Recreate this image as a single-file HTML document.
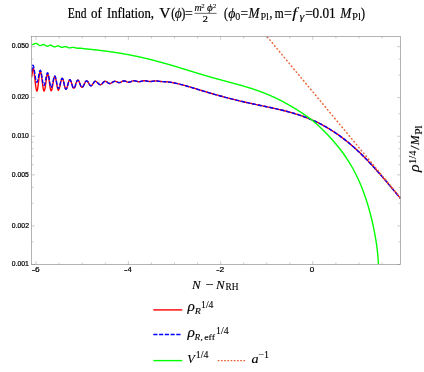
<!DOCTYPE html>
<html><head><meta charset="utf-8"><title>End of Inflation</title>
<style>
html,body{margin:0;padding:0;background:#fff;}
body{width:424px;height:372px;overflow:hidden;font-family:"Liberation Serif",serif;}
svg{display:block;will-change:transform;}
</style></head><body>
<svg width="424" height="372" viewBox="0 0 424 372">
<rect width="424" height="372" fill="#fff"/>
<clipPath id="c"><rect x="31.5" y="36.5" width="369.0" height="228.0"/></clipPath>
<g clip-path="url(#c)" fill="none" stroke-linejoin="round">
<path d="M31.50,77.20 L31.90,75.90 L32.30,72.75 L32.70,69.60 L33.10,68.30 L33.52,68.99 L33.94,70.97 L34.37,74.00 L34.79,77.72 L35.21,81.68 L35.63,85.40 L36.06,88.43 L36.48,90.41 L36.90,91.10 L37.32,90.35 L37.75,88.23 L38.17,85.05 L38.60,81.30 L39.02,77.55 L39.45,74.37 L39.88,72.25 L40.30,71.50 L40.72,72.09 L41.14,73.79 L41.57,76.40 L41.99,79.60 L42.41,83.00 L42.83,86.20 L43.26,88.81 L43.68,90.51 L44.10,91.10 L44.54,90.45 L44.98,88.60 L45.41,85.82 L45.85,82.55 L46.29,79.28 L46.73,76.50 L47.16,74.65 L47.60,74.00 L48.00,74.51 L48.40,75.97 L48.80,78.20 L49.20,80.94 L49.60,83.86 L50.00,86.60 L50.40,88.83 L50.80,90.29 L51.20,90.80 L51.65,90.26 L52.10,88.71 L52.55,86.39 L53.00,83.65 L53.45,80.91 L53.90,78.59 L54.35,77.04 L54.80,76.50 L55.20,76.91 L55.60,78.10 L56.00,79.92 L56.40,82.16 L56.80,84.54 L57.20,86.78 L57.60,88.60 L58.00,89.79 L58.40,90.20 L58.82,89.84 L59.24,88.82 L59.67,87.25 L60.09,85.32 L60.51,83.28 L60.93,81.35 L61.36,79.78 L61.78,78.76 L62.20,78.40 L62.62,78.73 L63.04,79.66 L63.47,81.10 L63.89,82.86 L64.31,84.74 L64.73,86.50 L65.16,87.94 L65.58,88.87 L66.00,89.20 L66.42,88.91 L66.84,88.09 L67.27,86.83 L67.69,85.27 L68.11,83.63 L68.53,82.08 L68.96,80.81 L69.38,79.99 L69.80,79.70 L70.20,79.91 L70.60,80.51 L71.00,81.45 L71.40,82.64 L71.80,83.95 L72.20,85.26 L72.60,86.45 L73.00,87.39 L73.40,87.99 L73.80,88.20 L74.20,88.00 L74.60,87.43 L75.00,86.53 L75.40,85.40 L75.80,84.15 L76.20,82.90 L76.60,81.77 L77.00,80.87 L77.40,80.30 L77.80,80.10 L78.22,80.28 L78.64,80.79 L79.06,81.58 L79.48,82.59 L79.90,83.70 L80.32,84.81 L80.74,85.82 L81.16,86.61 L81.58,87.12 L82.00,87.30 L82.42,87.17 L82.84,86.79 L83.25,86.20 L83.67,85.43 L84.09,84.56 L84.51,83.64 L84.93,82.77 L85.35,82.00 L85.76,81.41 L86.18,81.03 L86.60,80.90 L87.00,81.00 L87.40,81.29 L87.80,81.75 L88.20,82.33 L88.60,83.00 L89.00,83.70 L89.40,84.37 L89.80,84.95 L90.20,85.41 L90.60,85.70 L91.00,85.80 L91.43,85.69 L91.86,85.37 L92.29,84.87 L92.72,84.25 L93.15,83.55 L93.58,82.85 L94.01,82.23 L94.44,81.73 L94.87,81.41 L95.30,81.30 L95.72,81.36 L96.13,81.53 L96.55,81.80 L96.97,82.15 L97.38,82.56 L97.80,83.00 L98.22,83.44 L98.63,83.85 L99.05,84.20 L99.47,84.47 L99.88,84.64 L100.30,84.70 L100.74,84.63 L101.17,84.43 L101.61,84.11 L102.05,83.71 L102.48,83.24 L102.92,82.76 L103.35,82.29 L103.79,81.89 L104.23,81.57 L104.66,81.37 L105.10,81.30 L105.53,81.34 L105.95,81.47 L106.38,81.68 L106.81,81.94 L107.24,82.24 L107.66,82.56 L108.09,82.86 L108.52,83.12 L108.95,83.33 L109.37,83.46 L109.80,83.50 L110.22,83.46 L110.65,83.35 L111.08,83.18 L111.50,82.95 L111.92,82.68 L112.35,82.40 L112.78,82.12 L113.20,81.85 L113.62,81.62 L114.05,81.45 L114.48,81.34 L114.90,81.30 L115.34,81.33 L115.78,81.42 L116.22,81.57 L116.66,81.75 L117.10,81.95 L117.54,82.15 L117.98,82.33 L118.42,82.48 L118.86,82.57 L119.30,82.60 L119.72,82.57 L120.14,82.47 L120.55,82.31 L120.97,82.10 L121.39,81.87 L121.81,81.63 L122.23,81.40 L122.65,81.19 L123.06,81.03 L123.48,80.93 L123.90,80.90 L124.33,80.93 L124.75,81.00 L125.18,81.12 L125.61,81.28 L126.04,81.46 L126.46,81.64 L126.89,81.82 L127.32,81.98 L127.75,82.10 L128.17,82.17 L128.60,82.20 L129.02,82.18 L129.43,82.12 L129.85,82.02 L130.26,81.89 L130.68,81.73 L131.09,81.56 L131.51,81.39 L131.92,81.22 L132.34,81.06 L132.75,80.93 L133.17,80.83 L133.58,80.77 L134.00,80.75 L134.41,80.77 L134.82,80.81 L135.22,80.89 L135.63,80.99 L136.04,81.10 L136.45,81.22 L136.86,81.35 L137.27,81.46 L137.68,81.56 L138.08,81.64 L138.49,81.68 L138.90,81.70 L139.32,81.69 L139.75,81.65 L140.17,81.58 L140.59,81.49 L141.02,81.39 L141.44,81.28 L141.86,81.17 L142.28,81.06 L142.71,80.96 L143.13,80.87 L143.55,80.80 L143.98,80.76 L144.40,80.75 L144.83,80.76 L145.26,80.79 L145.69,80.84 L146.12,80.91 L146.55,80.99 L146.98,81.08 L147.42,81.17 L147.85,81.26 L148.28,81.34 L148.71,81.41 L149.14,81.46 L149.57,81.49 L150.00,81.50 L150.41,81.49 L150.81,81.47 L151.22,81.43 L151.63,81.39 L152.04,81.33 L152.44,81.27 L152.85,81.20 L153.26,81.13 L153.66,81.07 L154.07,81.01 L154.48,80.97 L154.89,80.93 L155.29,80.91 L155.70,80.90 L156.11,80.91 L156.51,80.93 L156.92,80.97 L157.33,81.01 L157.74,81.07 L158.14,81.13 L158.55,81.20 L158.96,81.27 L159.36,81.33 L159.77,81.39 L160.18,81.43 L160.59,81.47 L160.99,81.49 L161.40,81.50 L162.40,81.62 L163.40,81.65 L164.40,81.68 L165.40,81.72 L166.40,81.78 L167.40,81.85 L168.40,81.95 L169.40,82.08 L170.40,82.24 L171.40,82.42 L172.40,82.61 L173.40,82.80 L174.40,82.99 L175.40,83.19 L176.40,83.40 L177.40,83.62 L178.40,83.86 L179.40,84.10 L180.40,84.35 L181.40,84.60 L182.40,84.87 L183.40,85.14 L184.40,85.41 L185.40,85.69 L186.40,85.97 L187.40,86.26 L188.40,86.55 L189.40,86.85 L190.40,87.14 L191.40,87.44 L192.40,87.74 L193.40,88.04 L194.40,88.35 L195.40,88.65 L196.40,88.95 L197.40,89.26 L198.40,89.56 L199.40,89.86 L200.40,90.17 L201.40,90.47 L202.40,90.77 L203.40,91.07 L204.40,91.37 L205.40,91.67 L206.40,91.97 L207.40,92.27 L208.40,92.57 L209.40,92.86 L210.40,93.15 L211.40,93.45 L212.40,93.74 L213.40,94.03 L214.40,94.31 L215.40,94.60 L216.40,94.88 L217.40,95.17 L218.40,95.45 L219.40,95.72 L220.40,96.00 L221.40,96.28 L222.40,96.55 L223.40,96.82 L224.40,97.09 L225.40,97.35 L226.40,97.62 L227.40,97.88 L228.40,98.14 L229.40,98.39 L230.40,98.65 L231.40,98.90 L232.40,99.15 L233.40,99.40 L234.40,99.65 L235.40,99.89 L236.40,100.13 L237.40,100.37 L238.40,100.61 L239.40,100.85 L240.40,101.08 L241.40,101.31 L242.40,101.55 L243.40,101.77 L244.40,102.00 L245.40,102.22 L246.40,102.45 L247.40,102.67 L248.40,102.89 L249.40,103.11 L250.40,103.33 L251.40,103.54 L252.40,103.76 L253.40,103.97 L254.40,104.18 L255.40,104.40 L256.40,104.61 L257.40,104.82 L258.40,105.03 L259.40,105.24 L260.40,105.45 L261.40,105.65 L262.40,105.86 L263.40,106.07 L264.40,106.28 L265.40,106.49 L266.40,106.70 L267.40,106.91 L268.40,107.12 L269.40,107.34 L270.40,107.55 L271.40,107.77 L272.40,107.98 L273.40,108.20 L274.40,108.42 L275.40,108.64 L276.40,108.87 L277.40,109.09 L278.40,109.32 L279.40,109.56 L280.40,109.79 L281.40,110.03 L282.40,110.27 L283.40,110.52 L284.40,110.77 L285.40,111.02 L286.40,111.28 L287.40,111.54 L288.40,111.81 L289.40,112.08 L290.40,112.35 L291.40,112.64 L292.40,112.92 L293.40,113.22 L294.40,113.52 L295.40,113.82 L296.40,114.14 L297.40,114.45 L298.40,114.78 L299.40,115.11 L300.40,115.45 L301.40,115.79 L302.40,116.15 L303.40,116.51 L304.40,116.88 L305.40,117.25 L306.40,117.64 L307.40,118.03 L308.40,118.43 L309.40,118.84 L310.40,119.26 L311.40,119.68 L312.40,120.12 L313.40,120.56 L314.40,121.01 L315.40,121.48 L316.40,121.95 L317.40,122.43 L318.40,122.92 L319.40,123.42 L320.40,123.93 L321.40,124.45 L322.40,124.98 L323.40,125.52 L324.40,126.07 L325.40,126.63 L326.40,127.20 L327.40,127.79 L328.40,128.38 L329.40,128.98 L330.40,129.60 L331.40,130.22 L332.40,130.86 L333.40,131.50 L334.40,132.16 L335.40,132.83 L336.40,133.51 L337.40,134.20 L338.40,134.90 L339.40,135.62 L340.40,136.34 L341.40,137.08 L342.40,137.83 L343.40,138.59 L344.40,139.36 L345.40,140.15 L346.40,140.94 L347.40,141.75 L348.40,142.57 L349.40,143.40 L350.40,144.24 L351.40,145.10 L352.40,145.97 L353.40,146.84 L354.40,147.73 L355.40,148.63 L356.40,149.55 L357.40,150.47 L358.40,151.41 L359.40,152.36 L360.40,153.31 L361.40,154.28 L362.40,155.27 L363.40,156.26 L364.40,157.26 L365.40,158.27 L366.40,159.30 L367.40,160.33 L368.40,161.37 L369.40,162.43 L370.40,163.49 L371.40,164.56 L372.40,165.64 L373.40,166.73 L374.40,167.83 L375.40,168.94 L376.40,170.05 L377.40,171.17 L378.40,172.30 L379.40,173.44 L380.40,174.59 L381.40,175.74 L382.40,176.89 L383.40,178.06 L384.40,179.22 L385.40,180.40 L386.40,181.57 L387.40,182.75 L388.40,183.94 L389.40,185.13 L390.40,186.32 L391.40,187.52 L392.40,188.71 L393.40,189.91 L394.40,191.11 L395.40,192.31 L396.40,193.51 L397.40,194.71 L398.40,195.91 L399.40,197.10 L400.40,198.30 L400.50,198.42" stroke="#ff0000" stroke-width="1.4"/>
<path d="M31.50,71.50 L31.93,69.90 L32.37,66.70 L32.80,65.10 L33.21,65.52 L33.62,66.73 L34.03,68.62 L34.44,71.01 L34.85,73.65 L35.26,76.29 L35.67,78.68 L36.08,80.57 L36.49,81.78 L36.90,82.20 L37.32,81.74 L37.75,80.44 L38.17,78.50 L38.60,76.20 L39.02,73.90 L39.45,71.96 L39.88,70.66 L40.30,70.20 L40.70,70.66 L41.10,71.98 L41.50,74.00 L41.90,76.48 L42.30,79.12 L42.70,81.60 L43.10,83.62 L43.50,84.94 L43.90,85.40 L44.31,85.02 L44.72,83.91 L45.13,82.23 L45.54,80.15 L45.96,77.95 L46.37,75.88 L46.78,74.19 L47.19,73.08 L47.60,72.70 L48.00,73.14 L48.40,74.41 L48.80,76.35 L49.20,78.73 L49.60,81.27 L50.00,83.65 L50.40,85.59 L50.80,86.86 L51.20,87.30 L51.65,86.87 L52.10,85.63 L52.55,83.78 L53.00,81.60 L53.45,79.42 L53.90,77.57 L54.35,76.33 L54.80,75.90 L55.20,76.28 L55.60,77.37 L56.00,79.05 L56.40,81.11 L56.80,83.29 L57.20,85.35 L57.60,87.03 L58.00,88.12 L58.40,88.50 L58.82,88.19 L59.24,87.30 L59.67,85.92 L60.09,84.24 L60.51,82.46 L60.93,80.78 L61.36,79.40 L61.78,78.51 L62.20,78.20 L62.62,78.53 L63.04,79.49 L63.47,80.95 L63.89,82.74 L64.31,84.66 L64.73,86.45 L65.16,87.91 L65.58,88.87 L66.00,89.20 L66.42,88.91 L66.84,88.09 L67.27,86.83 L67.69,85.27 L68.11,83.63 L68.53,82.08 L68.96,80.81 L69.38,79.99 L69.80,79.70 L70.20,79.91 L70.60,80.51 L71.00,81.45 L71.40,82.64 L71.80,83.95 L72.20,85.26 L72.60,86.45 L73.00,87.39 L73.40,87.99 L73.80,88.20 L74.20,88.00 L74.60,87.43 L75.00,86.53 L75.40,85.40 L75.80,84.15 L76.20,82.90 L76.60,81.77 L77.00,80.87 L77.40,80.30 L77.80,80.10 L78.22,80.28 L78.64,80.79 L79.06,81.58 L79.48,82.59 L79.90,83.70 L80.32,84.81 L80.74,85.82 L81.16,86.61 L81.58,87.12 L82.00,87.30 L82.42,87.17 L82.84,86.79 L83.25,86.20 L83.67,85.43 L84.09,84.56 L84.51,83.64 L84.93,82.77 L85.35,82.00 L85.76,81.41 L86.18,81.03 L86.60,80.90 L87.00,81.00 L87.40,81.29 L87.80,81.75 L88.20,82.33 L88.60,83.00 L89.00,83.70 L89.40,84.37 L89.80,84.95 L90.20,85.41 L90.60,85.70 L91.00,85.80 L91.43,85.69 L91.86,85.37 L92.29,84.87 L92.72,84.25 L93.15,83.55 L93.58,82.85 L94.01,82.23 L94.44,81.73 L94.87,81.41 L95.30,81.30 L95.72,81.36 L96.13,81.53 L96.55,81.80 L96.97,82.15 L97.38,82.56 L97.80,83.00 L98.22,83.44 L98.63,83.85 L99.05,84.20 L99.47,84.47 L99.88,84.64 L100.30,84.70 L100.74,84.63 L101.17,84.43 L101.61,84.11 L102.05,83.71 L102.48,83.24 L102.92,82.76 L103.35,82.29 L103.79,81.89 L104.23,81.57 L104.66,81.37 L105.10,81.30 L105.53,81.34 L105.95,81.47 L106.38,81.68 L106.81,81.94 L107.24,82.24 L107.66,82.56 L108.09,82.86 L108.52,83.12 L108.95,83.33 L109.37,83.46 L109.80,83.50 L110.22,83.46 L110.65,83.35 L111.08,83.18 L111.50,82.95 L111.92,82.68 L112.35,82.40 L112.78,82.12 L113.20,81.85 L113.62,81.62 L114.05,81.45 L114.48,81.34 L114.90,81.30 L115.34,81.33 L115.78,81.42 L116.22,81.57 L116.66,81.75 L117.10,81.95 L117.54,82.15 L117.98,82.33 L118.42,82.48 L118.86,82.57 L119.30,82.60 L119.72,82.57 L120.14,82.47 L120.55,82.31 L120.97,82.10 L121.39,81.87 L121.81,81.63 L122.23,81.40 L122.65,81.19 L123.06,81.03 L123.48,80.93 L123.90,80.90 L124.33,80.93 L124.75,81.00 L125.18,81.12 L125.61,81.28 L126.04,81.46 L126.46,81.64 L126.89,81.82 L127.32,81.98 L127.75,82.10 L128.17,82.17 L128.60,82.20 L129.02,82.18 L129.43,82.12 L129.85,82.02 L130.26,81.89 L130.68,81.73 L131.09,81.56 L131.51,81.39 L131.92,81.22 L132.34,81.06 L132.75,80.93 L133.17,80.83 L133.58,80.77 L134.00,80.75 L134.41,80.77 L134.82,80.81 L135.22,80.89 L135.63,80.99 L136.04,81.10 L136.45,81.22 L136.86,81.35 L137.27,81.46 L137.68,81.56 L138.08,81.64 L138.49,81.68 L138.90,81.70 L139.32,81.69 L139.75,81.65 L140.17,81.58 L140.59,81.49 L141.02,81.39 L141.44,81.28 L141.86,81.17 L142.28,81.06 L142.71,80.96 L143.13,80.87 L143.55,80.80 L143.98,80.76 L144.40,80.75 L144.83,80.76 L145.26,80.79 L145.69,80.84 L146.12,80.91 L146.55,80.99 L146.98,81.08 L147.42,81.17 L147.85,81.26 L148.28,81.34 L148.71,81.41 L149.14,81.46 L149.57,81.49 L150.00,81.50 L150.41,81.49 L150.81,81.47 L151.22,81.43 L151.63,81.39 L152.04,81.33 L152.44,81.27 L152.85,81.20 L153.26,81.13 L153.66,81.07 L154.07,81.01 L154.48,80.97 L154.89,80.93 L155.29,80.91 L155.70,80.90 L156.11,80.91 L156.51,80.93 L156.92,80.97 L157.33,81.01 L157.74,81.07 L158.14,81.13 L158.55,81.20 L158.96,81.27 L159.36,81.33 L159.77,81.39 L160.18,81.43 L160.59,81.47 L160.99,81.49 L161.40,81.50 L162.40,81.62 L163.40,81.65 L164.40,81.68 L165.40,81.72 L166.40,81.78 L167.40,81.85 L168.40,81.95 L169.40,82.08 L170.40,82.24 L171.40,82.42 L172.40,82.61 L173.40,82.80 L174.40,82.99 L175.40,83.19 L176.40,83.40 L177.40,83.62 L178.40,83.86 L179.40,84.10 L180.40,84.35 L181.40,84.60 L182.40,84.87 L183.40,85.14 L184.40,85.41 L185.40,85.69 L186.40,85.97 L187.40,86.26 L188.40,86.55 L189.40,86.85 L190.40,87.14 L191.40,87.44 L192.40,87.74 L193.40,88.04 L194.40,88.35 L195.40,88.65 L196.40,88.95 L197.40,89.26 L198.40,89.56 L199.40,89.86 L200.40,90.17 L201.40,90.47 L202.40,90.77 L203.40,91.07 L204.40,91.37 L205.40,91.67 L206.40,91.97 L207.40,92.27 L208.40,92.57 L209.40,92.86 L210.40,93.15 L211.40,93.45 L212.40,93.74 L213.40,94.03 L214.40,94.31 L215.40,94.60 L216.40,94.88 L217.40,95.17 L218.40,95.45 L219.40,95.72 L220.40,96.00 L221.40,96.28 L222.40,96.55 L223.40,96.82 L224.40,97.09 L225.40,97.35 L226.40,97.62 L227.40,97.88 L228.40,98.14 L229.40,98.39 L230.40,98.65 L231.40,98.90 L232.40,99.15 L233.40,99.40 L234.40,99.65 L235.40,99.89 L236.40,100.13 L237.40,100.37 L238.40,100.61 L239.40,100.85 L240.40,101.08 L241.40,101.31 L242.40,101.55 L243.40,101.77 L244.40,102.00 L245.40,102.22 L246.40,102.45 L247.40,102.67 L248.40,102.89 L249.40,103.11 L250.40,103.33 L251.40,103.54 L252.40,103.76 L253.40,103.97 L254.40,104.18 L255.40,104.40 L256.40,104.61 L257.40,104.82 L258.40,105.03 L259.40,105.24 L260.40,105.45 L261.40,105.65 L262.40,105.86 L263.40,106.07 L264.40,106.28 L265.40,106.49 L266.40,106.70 L267.40,106.91 L268.40,107.12 L269.40,107.34 L270.40,107.55 L271.40,107.77 L272.40,107.98 L273.40,108.20 L274.40,108.42 L275.40,108.64 L276.40,108.87 L277.40,109.09 L278.40,109.32 L279.40,109.56 L280.40,109.79 L281.40,110.03 L282.40,110.27 L283.40,110.52 L284.40,110.77 L285.40,111.02 L286.40,111.28 L287.40,111.54 L288.40,111.81 L289.40,112.08 L290.40,112.35 L291.40,112.64 L292.40,112.92 L293.40,113.22 L294.40,113.52 L295.40,113.82 L296.40,114.14 L297.40,114.45 L298.40,114.78 L299.40,115.11 L300.40,115.45 L301.40,115.79 L302.40,116.15 L303.40,116.51 L304.40,116.88 L305.40,117.25 L306.40,117.64 L307.40,118.03 L308.40,118.43 L309.40,118.84 L310.40,119.26 L311.40,119.68 L312.40,120.12 L313.40,120.56 L314.40,121.01 L315.40,121.48 L316.40,121.95 L317.40,122.43 L318.40,122.92 L319.40,123.42 L320.40,123.93 L321.40,124.45 L322.40,124.98 L323.40,125.52 L324.40,126.07 L325.40,126.63 L326.40,127.20 L327.40,127.79 L328.40,128.38 L329.40,128.98 L330.40,129.60 L331.40,130.22 L332.40,130.86 L333.40,131.50 L334.40,132.16 L335.40,132.83 L336.40,133.51 L337.40,134.20 L338.40,134.90 L339.40,135.62 L340.40,136.34 L341.40,137.08 L342.40,137.83 L343.40,138.59 L344.40,139.36 L345.40,140.15 L346.40,140.94 L347.40,141.75 L348.40,142.57 L349.40,143.40 L350.40,144.24 L351.40,145.10 L352.40,145.97 L353.40,146.84 L354.40,147.73 L355.40,148.63 L356.40,149.55 L357.40,150.47 L358.40,151.41 L359.40,152.36 L360.40,153.31 L361.40,154.28 L362.40,155.27 L363.40,156.26 L364.40,157.26 L365.40,158.27 L366.40,159.30 L367.40,160.33 L368.40,161.37 L369.40,162.43 L370.40,163.49 L371.40,164.56 L372.40,165.64 L373.40,166.73 L374.40,167.83 L375.40,168.94 L376.40,170.05 L377.40,171.17 L378.40,172.30 L379.40,173.44 L380.40,174.59 L381.40,175.74 L382.40,176.89 L383.40,178.06 L384.40,179.22 L385.40,180.40 L386.40,181.57 L387.40,182.75 L388.40,183.94 L389.40,185.13 L390.40,186.32 L391.40,187.52 L392.40,188.71 L393.40,189.91 L394.40,191.11 L395.40,192.31 L396.40,193.51 L397.40,194.71 L398.40,195.91 L399.40,197.10 L400.40,198.30 L400.50,198.42" stroke="#0000ff" stroke-width="1.4" stroke-dasharray="4.25 1.55"/>
<path d="M31.50,44.70 L31.81,44.69 L32.13,44.64 L32.44,44.58 L32.75,44.48 L33.07,44.38 L33.38,44.25 L33.69,44.12 L34.01,43.98 L34.32,43.85 L34.63,43.73 L34.95,43.62 L35.26,43.52 L35.57,43.46 L35.89,43.41 L36.20,43.40 L36.52,43.44 L36.83,43.55 L37.15,43.72 L37.47,43.95 L37.78,44.22 L38.10,44.50 L38.42,44.78 L38.73,45.05 L39.05,45.28 L39.37,45.45 L39.68,45.56 L40.00,45.60 L40.30,45.58 L40.60,45.53 L40.90,45.44 L41.20,45.33 L41.50,45.19 L41.80,45.05 L42.10,44.91 L42.40,44.77 L42.70,44.66 L43.00,44.57 L43.30,44.52 L43.60,44.50 L43.92,44.53 L44.24,44.63 L44.55,44.79 L44.87,45.00 L45.19,45.23 L45.51,45.47 L45.83,45.70 L46.15,45.91 L46.46,46.07 L46.78,46.17 L47.10,46.20 L47.42,46.18 L47.74,46.12 L48.05,46.03 L48.37,45.91 L48.69,45.77 L49.01,45.63 L49.33,45.49 L49.65,45.37 L49.96,45.28 L50.28,45.22 L50.60,45.20 L50.93,45.23 L51.25,45.31 L51.58,45.45 L51.90,45.62 L52.23,45.83 L52.55,46.05 L52.88,46.27 L53.20,46.48 L53.52,46.65 L53.85,46.79 L54.17,46.87 L54.50,46.90 L54.82,46.88 L55.14,46.82 L55.45,46.73 L55.77,46.61 L56.09,46.47 L56.41,46.33 L56.73,46.19 L57.05,46.07 L57.36,45.98 L57.68,45.92 L58.00,45.90 L58.31,45.92 L58.62,45.98 L58.92,46.08 L59.23,46.20 L59.54,46.35 L59.85,46.52 L60.15,46.68 L60.46,46.85 L60.77,47.00 L61.08,47.12 L61.38,47.22 L61.69,47.28 L62.00,47.30 L62.32,47.29 L62.64,47.24 L62.95,47.18 L63.27,47.10 L63.59,47.00 L63.91,46.90 L64.23,46.80 L64.55,46.72 L64.86,46.66 L65.18,46.61 L65.50,46.60 L65.81,46.62 L66.12,46.67 L66.42,46.76 L66.73,46.88 L67.04,47.02 L67.35,47.17 L67.65,47.33 L67.96,47.48 L68.27,47.62 L68.58,47.74 L68.88,47.83 L69.19,47.88 L69.50,47.90 L69.82,47.89 L70.13,47.86 L70.45,47.80 L70.77,47.74 L71.08,47.67 L71.40,47.59 L71.72,47.53 L72.03,47.47 L72.35,47.42 L72.67,47.39 L72.98,47.38 L73.30,47.39 L73.60,47.41 L73.90,47.45 L74.20,47.51 L74.50,47.58 L74.80,47.66 L75.10,47.75 L75.40,47.83 L75.70,47.91 L76.00,47.99 L76.30,48.05 L76.60,48.11 L76.90,48.15 L77.20,48.18 L77.50,48.19 L77.82,48.20 L78.13,48.21 L78.45,48.21 L78.76,48.21 L79.08,48.21 L79.39,48.22 L79.71,48.22 L80.02,48.23 L80.34,48.24 L80.65,48.26 L80.97,48.28 L81.28,48.31 L81.60,48.34 L81.91,48.37 L82.22,48.41 L82.52,48.46 L82.83,48.50 L83.14,48.55 L83.45,48.60 L83.75,48.64 L84.06,48.68 L84.37,48.72 L84.68,48.75 L84.98,48.78 L85.29,48.81 L85.60,48.84 L86.00,48.88 L86.50,48.93 L87.00,48.98 L87.50,49.03 L88.00,49.08 L88.50,49.13 L89.00,49.18 L89.50,49.23 L90.00,49.28 L90.50,49.34 L91.00,49.39 L91.50,49.44 L92.00,49.49 L92.50,49.55 L93.00,49.60 L93.50,49.66 L94.00,49.71 L94.50,49.77 L95.00,49.82 L95.50,49.88 L96.00,49.93 L96.50,49.99 L97.00,50.05 L97.50,50.11 L98.00,50.16 L98.50,50.22 L99.00,50.28 L99.50,50.34 L100.00,50.40 L100.50,50.46 L101.00,50.52 L101.50,50.58 L102.00,50.64 L102.50,50.70 L103.00,50.77 L103.50,50.83 L104.00,50.89 L104.50,50.96 L105.00,51.02 L105.50,51.09 L106.00,51.15 L106.50,51.22 L107.00,51.29 L107.50,51.35 L108.00,51.42 L108.50,51.49 L109.00,51.56 L109.50,51.63 L110.00,51.70 L110.50,51.77 L111.00,51.84 L111.50,51.91 L112.00,51.98 L112.50,52.05 L113.00,52.13 L113.50,52.20 L114.00,52.27 L114.50,52.35 L115.00,52.42 L115.50,52.50 L116.00,52.58 L116.50,52.65 L117.00,52.73 L117.50,52.81 L118.00,52.89 L118.50,52.97 L119.00,53.05 L119.50,53.13 L120.00,53.21 L120.50,53.30 L121.00,53.38 L121.50,53.46 L122.00,53.55 L122.50,53.63 L123.00,53.72 L123.50,53.80 L124.00,53.89 L124.50,53.98 L125.00,54.07 L125.50,54.16 L126.00,54.25 L126.50,54.34 L127.00,54.43 L127.50,54.52 L128.00,54.61 L128.50,54.71 L129.00,54.80 L129.50,54.89 L130.00,54.99 L130.50,55.09 L131.00,55.18 L131.50,55.28 L132.00,55.38 L132.50,55.48 L133.00,55.58 L133.50,55.68 L134.00,55.78 L134.50,55.88 L135.00,55.98 L135.50,56.09 L136.00,56.19 L136.50,56.30 L137.00,56.40 L137.50,56.51 L138.00,56.62 L138.50,56.72 L139.00,56.83 L139.50,56.94 L140.00,57.05 L140.50,57.16 L141.00,57.27 L141.50,57.39 L142.00,57.50 L142.50,57.61 L143.00,57.73 L143.50,57.84 L144.00,57.96 L144.50,58.07 L145.00,58.19 L145.50,58.31 L146.00,58.43 L146.50,58.55 L147.00,58.67 L147.50,58.79 L148.00,58.91 L148.50,59.03 L149.00,59.15 L149.50,59.28 L150.00,59.40 L150.50,59.52 L151.00,59.65 L151.50,59.78 L152.00,59.90 L152.50,60.03 L153.00,60.16 L153.50,60.29 L154.00,60.42 L154.50,60.55 L155.00,60.68 L155.50,60.81 L156.00,60.94 L156.50,61.07 L157.00,61.20 L157.50,61.34 L158.00,61.47 L158.50,61.61 L159.00,61.74 L159.50,61.88 L160.00,62.01 L160.50,62.15 L161.00,62.29 L161.50,62.43 L162.00,62.57 L162.50,62.70 L163.00,62.84 L163.50,62.98 L164.00,63.13 L164.50,63.27 L165.00,63.41 L165.50,63.55 L166.00,63.69 L166.50,63.84 L167.00,63.98 L167.50,64.13 L168.00,64.27 L168.50,64.41 L169.00,64.56 L169.50,64.71 L170.00,64.85 L170.50,65.00 L171.00,65.15 L171.50,65.29 L172.00,65.44 L172.50,65.59 L173.00,65.74 L173.50,65.89 L174.00,66.04 L174.50,66.19 L175.00,66.34 L175.50,66.49 L176.00,66.64 L176.50,66.79 L177.00,66.94 L177.50,67.09 L178.00,67.24 L178.50,67.39 L179.00,67.55 L179.50,67.70 L180.00,67.85 L180.50,68.00 L181.00,68.16 L181.50,68.31 L182.00,68.46 L182.50,68.62 L183.00,68.77 L183.50,68.92 L184.00,69.08 L184.50,69.23 L185.00,69.38 L185.50,69.54 L186.00,69.69 L186.50,69.85 L187.00,70.00 L187.50,70.15 L188.00,70.31 L188.50,70.46 L189.00,70.61 L189.50,70.77 L190.00,70.92 L190.50,71.08 L191.00,71.23 L191.50,71.38 L192.00,71.54 L192.50,71.69 L193.00,71.84 L193.50,72.00 L194.00,72.15 L194.50,72.30 L195.00,72.45 L195.50,72.60 L196.00,72.76 L196.50,72.91 L197.00,73.06 L197.50,73.21 L198.00,73.36 L198.50,73.51 L199.00,73.66 L199.50,73.81 L200.00,73.96 L200.50,74.11 L201.00,74.26 L201.50,74.41 L202.00,74.56 L202.50,74.71 L203.00,74.85 L203.50,75.00 L204.00,75.15 L204.50,75.30 L205.00,75.44 L205.50,75.59 L206.00,75.73 L206.50,75.88 L207.00,76.02 L207.50,76.17 L208.00,76.31 L208.50,76.46 L209.00,76.60 L209.50,76.74 L210.00,76.89 L210.50,77.03 L211.00,77.17 L211.50,77.31 L212.00,77.46 L212.50,77.60 L213.00,77.74 L213.50,77.88 L214.00,78.02 L214.50,78.16 L215.00,78.30 L215.50,78.44 L216.00,78.58 L216.50,78.71 L217.00,78.85 L217.50,78.99 L218.00,79.13 L218.50,79.27 L219.00,79.40 L219.50,79.54 L220.00,79.68 L220.50,79.81 L221.00,79.95 L221.50,80.09 L222.00,80.22 L222.50,80.36 L223.00,80.50 L223.50,80.63 L224.00,80.77 L224.50,80.90 L225.00,81.04 L225.50,81.17 L226.00,81.31 L226.50,81.44 L227.00,81.58 L227.50,81.71 L228.00,81.85 L228.50,81.98 L229.00,82.11 L229.50,82.25 L230.00,82.38 L230.50,82.52 L231.00,82.65 L231.50,82.79 L232.00,82.92 L232.50,83.06 L233.00,83.19 L233.50,83.33 L234.00,83.47 L234.50,83.60 L235.00,83.74 L235.50,83.88 L236.00,84.01 L236.50,84.15 L237.00,84.29 L237.50,84.42 L238.00,84.56 L238.50,84.70 L239.00,84.84 L239.50,84.98 L240.00,85.12 L240.50,85.26 L241.00,85.40 L241.50,85.54 L242.00,85.69 L242.50,85.83 L243.00,85.97 L243.50,86.12 L244.00,86.26 L244.50,86.41 L245.00,86.55 L245.50,86.70 L246.00,86.85 L246.50,87.00 L247.00,87.15 L247.50,87.30 L248.00,87.45 L248.50,87.60 L249.00,87.76 L249.50,87.91 L250.00,88.07 L250.50,88.22 L251.00,88.38 L251.50,88.54 L252.00,88.70 L252.50,88.86 L253.00,89.03 L253.50,89.19 L254.00,89.36 L254.50,89.52 L255.00,89.69 L255.50,89.86 L256.00,90.03 L256.50,90.20 L257.00,90.38 L257.50,90.55 L258.00,90.73 L258.50,90.91 L259.00,91.08 L259.50,91.27 L260.00,91.45 L260.50,91.63 L261.00,91.82 L261.50,92.00 L262.00,92.19 L262.50,92.38 L263.00,92.57 L263.50,92.77 L264.00,92.96 L264.50,93.16 L265.00,93.36 L265.50,93.56 L266.00,93.76 L266.50,93.96 L267.00,94.17 L267.50,94.38 L268.00,94.58 L268.50,94.79 L269.00,95.01 L269.50,95.22 L270.00,95.44 L270.50,95.65 L271.00,95.87 L271.50,96.09 L272.00,96.32 L272.50,96.54 L273.00,96.77 L273.50,97.00 L274.00,97.23 L274.50,97.46 L275.00,97.69 L275.50,97.93 L276.00,98.17 L276.50,98.40 L277.00,98.65 L277.50,98.89 L278.00,99.13 L278.50,99.38 L279.00,99.63 L279.50,99.88 L280.00,100.13 L280.50,100.39 L281.00,100.64 L281.50,100.90 L282.00,101.16 L282.50,101.42 L283.00,101.68 L283.50,101.95 L284.00,102.22 L284.50,102.49 L285.00,102.76 L285.50,103.03 L286.00,103.30 L286.50,103.58 L287.00,103.86 L287.50,104.14 L288.00,104.42 L288.50,104.70 L289.00,104.99 L289.50,105.27 L290.00,105.56 L290.50,105.85 L291.00,106.14 L291.50,106.44 L292.00,106.73 L292.50,107.03 L293.00,107.33 L293.50,107.63 L294.00,107.93 L294.50,108.23 L295.00,108.54 L295.50,108.84 L296.00,109.15 L296.50,109.46 L297.00,109.77 L297.50,110.09 L298.00,110.40 L298.50,110.72 L299.00,111.04 L299.50,111.36 L300.00,111.68 L300.50,112.00 L301.00,112.33 L301.50,112.65 L302.00,112.98 L302.50,113.31 L303.00,113.65 L303.50,113.98 L304.00,114.32 L304.50,114.66 L305.00,115.00 L305.50,115.35 L306.00,115.70 L306.50,116.05 L307.00,116.40 L307.50,116.76 L308.00,117.12 L308.50,117.49 L309.00,117.86 L309.50,118.23 L310.00,118.61 L310.50,118.99 L311.00,119.37 L311.50,119.76 L312.00,120.16 L312.50,120.56 L313.00,120.96 L313.50,121.37 L314.00,121.78 L314.50,122.20 L315.00,122.62 L315.50,123.05 L316.00,123.49 L316.50,123.93 L317.00,124.37 L317.50,124.82 L318.00,125.27 L319.07,126.27 L320.13,127.27 L321.18,128.27 L322.21,129.27 L323.23,130.27 L324.24,131.27 L325.23,132.27 L326.21,133.27 L327.18,134.27 L328.13,135.27 L329.06,136.27 L329.99,137.27 L330.90,138.27 L331.80,139.27 L332.68,140.27 L333.55,141.27 L334.41,142.27 L335.25,143.27 L336.08,144.27 L336.90,145.27 L337.72,146.27 L338.53,147.27 L339.33,148.27 L340.11,149.27 L340.88,150.27 L341.64,151.27 L342.38,152.27 L343.12,153.27 L343.84,154.27 L344.55,155.27 L345.24,156.27 L345.93,157.27 L346.60,158.27 L347.26,159.27 L347.91,160.27 L348.55,161.27 L349.17,162.27 L349.79,163.27 L350.39,164.27 L350.99,165.27 L351.57,166.27 L352.14,167.27 L352.70,168.27 L353.26,169.27 L353.80,170.27 L354.33,171.27 L354.85,172.27 L355.37,173.27 L355.87,174.27 L356.37,175.27 L356.85,176.27 L357.33,177.27 L357.80,178.27 L358.26,179.27 L358.72,180.27 L359.16,181.27 L359.60,182.27 L360.03,183.27 L360.45,184.27 L360.87,185.27 L361.28,186.27 L361.68,187.27 L362.08,188.27 L362.47,189.27 L362.85,190.27 L363.23,191.27 L363.60,192.27 L363.96,193.27 L364.32,194.27 L364.68,195.27 L365.02,196.27 L365.37,197.27 L365.70,198.27 L366.03,199.27 L366.36,200.27 L366.68,201.27 L367.00,202.27 L367.31,203.27 L367.61,204.27 L367.92,205.27 L368.21,206.27 L368.51,207.27 L368.79,208.27 L369.08,209.27 L369.36,210.27 L369.63,211.27 L369.90,212.27 L370.17,213.27 L370.43,214.27 L370.69,215.27 L370.95,216.27 L371.20,217.27 L371.44,218.27 L371.69,219.27 L371.93,220.27 L372.16,221.27 L372.39,222.27 L372.62,223.27 L372.85,224.27 L373.07,225.27 L373.28,226.27 L373.49,227.27 L373.70,228.27 L373.91,229.27 L374.11,230.27 L374.31,231.27 L374.50,232.27 L374.69,233.27 L374.88,234.27 L375.06,235.27 L375.24,236.27 L375.41,237.27 L375.58,238.27 L375.75,239.27 L375.91,240.27 L376.07,241.27 L376.23,242.27 L376.38,243.27 L376.52,244.27 L376.66,245.27 L376.80,246.27 L376.93,247.27 L377.06,248.27 L377.18,249.27 L377.30,250.27 L377.42,251.27 L377.53,252.27 L377.63,253.27 L377.73,254.27 L377.82,255.27 L377.91,256.27 L378.00,257.27 L378.07,258.27 L378.15,259.27 L378.21,260.27 L378.27,261.27 L378.33,262.27 L378.38,263.27 L378.42,264.27 L378.43,264.50" stroke="#00ff00" stroke-width="1.4"/>
<path d="M266.96,36.50 L400.50,197.72" stroke="#eb6235" stroke-width="1.4" stroke-dasharray="1.95 1.82"/>
</g>
<g stroke="#999" stroke-width="0.5" fill="none">
<path d="M36.11,264.5 v-3.4 M36.11,36.5 v3.4"/>
<path d="M59.17,264.5 v-2.0 M59.17,36.5 v2.0"/>
<path d="M82.24,264.5 v-2.0 M82.24,36.5 v2.0"/>
<path d="M105.30,264.5 v-2.0 M105.30,36.5 v2.0"/>
<path d="M128.36,264.5 v-3.4 M128.36,36.5 v3.4"/>
<path d="M151.42,264.5 v-2.0 M151.42,36.5 v2.0"/>
<path d="M174.49,264.5 v-2.0 M174.49,36.5 v2.0"/>
<path d="M197.55,264.5 v-2.0 M197.55,36.5 v2.0"/>
<path d="M220.61,264.5 v-3.4 M220.61,36.5 v3.4"/>
<path d="M243.67,264.5 v-2.0 M243.67,36.5 v2.0"/>
<path d="M266.74,264.5 v-2.0 M266.74,36.5 v2.0"/>
<path d="M289.80,264.5 v-2.0 M289.80,36.5 v2.0"/>
<path d="M312.86,264.5 v-3.4 M312.86,36.5 v3.4"/>
<path d="M335.93,264.5 v-2.0 M335.93,36.5 v2.0"/>
<path d="M358.99,264.5 v-2.0 M358.99,36.5 v2.0"/>
<path d="M382.05,264.5 v-2.0 M382.05,36.5 v2.0"/>
<path d="M31.5,264.50 h3.4 M400.5,264.50 h-3.4"/>
<path d="M31.5,225.90 h3.4 M400.5,225.90 h-3.4"/>
<path d="M31.5,174.88 h3.4 M400.5,174.88 h-3.4"/>
<path d="M31.5,136.28 h3.4 M400.5,136.28 h-3.4"/>
<path d="M31.5,97.68 h3.4 M400.5,97.68 h-3.4"/>
<path d="M31.5,46.65 h3.4 M400.5,46.65 h-3.4"/>
<path d="M31.5,241.92 h2.0 M400.5,241.92 h-2.0"/>
<path d="M31.5,203.32 h2.0 M400.5,203.32 h-2.0"/>
<path d="M31.5,187.30 h2.0 M400.5,187.30 h-2.0"/>
<path d="M31.5,164.72 h2.0 M400.5,164.72 h-2.0"/>
<path d="M31.5,156.14 h2.0 M400.5,156.14 h-2.0"/>
<path d="M31.5,148.70 h2.0 M400.5,148.70 h-2.0"/>
<path d="M31.5,142.14 h2.0 M400.5,142.14 h-2.0"/>
<path d="M31.5,113.70 h2.0 M400.5,113.70 h-2.0"/>
<path d="M31.5,75.10 h2.0 M400.5,75.10 h-2.0"/>
<path d="M31.5,59.08 h2.0 M400.5,59.08 h-2.0"/>
</g>
<rect x="31.5" y="36.5" width="369.0" height="228.0" fill="none" stroke="#787878" stroke-width="0.55"/>
<g stroke="#000" stroke-width="0.22">
<text x="11.83" y="266.30" font-family="Liberation Sans, sans-serif" font-size="7.1" fill="#000" textLength="17.10" lengthAdjust="spacingAndGlyphs">0.001</text>
<text x="11.83" y="227.70" font-family="Liberation Sans, sans-serif" font-size="7.1" fill="#000" textLength="17.11" lengthAdjust="spacingAndGlyphs">0.002</text>
<text x="11.83" y="176.68" font-family="Liberation Sans, sans-serif" font-size="7.1" fill="#000" textLength="17.05" lengthAdjust="spacingAndGlyphs">0.005</text>
<text x="11.83" y="138.08" font-family="Liberation Sans, sans-serif" font-size="7.1" fill="#000" textLength="17.03" lengthAdjust="spacingAndGlyphs">0.010</text>
<text x="11.83" y="99.48" font-family="Liberation Sans, sans-serif" font-size="7.1" fill="#000" textLength="17.03" lengthAdjust="spacingAndGlyphs">0.020</text>
<text x="11.83" y="48.45" font-family="Liberation Sans, sans-serif" font-size="7.1" fill="#000" textLength="17.03" lengthAdjust="spacingAndGlyphs">0.050</text>
<text x="31.67" y="272.25" font-family="Liberation Sans, sans-serif" font-size="8.0" fill="#000" textLength="3.33" lengthAdjust="spacingAndGlyphs">-</text>
<text x="34.94" y="272.25" font-family="Liberation Sans, sans-serif" font-size="7.1" fill="#000" textLength="4.64" lengthAdjust="spacingAndGlyphs">6</text>
<text x="123.92" y="272.25" font-family="Liberation Sans, sans-serif" font-size="8.0" fill="#000" textLength="3.33" lengthAdjust="spacingAndGlyphs">-</text>
<text x="127.44" y="272.25" font-family="Liberation Sans, sans-serif" font-size="7.1" fill="#000" textLength="4.25" lengthAdjust="spacingAndGlyphs">4</text>
<text x="216.17" y="272.25" font-family="Liberation Sans, sans-serif" font-size="8.0" fill="#000" textLength="3.33" lengthAdjust="spacingAndGlyphs">-</text>
<text x="219.44" y="272.25" font-family="Liberation Sans, sans-serif" font-size="7.1" fill="#000" textLength="4.70" lengthAdjust="spacingAndGlyphs">2</text>
<text x="309.89" y="272.25" font-family="Liberation Sans, sans-serif" font-size="7.1" fill="#000" textLength="4.54" lengthAdjust="spacingAndGlyphs">0</text>
</g>
<g fill="#000" stroke="#000">
<text x="67.87" y="17.50" font-family="Liberation Serif, serif" font-size="14" stroke-width="0.22" textLength="18.57" lengthAdjust="spacingAndGlyphs">End</text>
<text x="90.91" y="17.50" font-family="Liberation Serif, serif" font-size="14" stroke-width="0.22" textLength="10.79" lengthAdjust="spacingAndGlyphs">of</text>
<text x="106.94" y="17.50" font-family="Liberation Serif, serif" font-size="14" stroke-width="0.22" textLength="47.06" lengthAdjust="spacingAndGlyphs">Inflation,</text>
<text x="159.33" y="17.50" font-family="Liberation Serif, serif" font-size="14" stroke-width="0.22" textLength="11.25" lengthAdjust="spacingAndGlyphs">V</text>
<text x="171.22" y="17.50" font-family="Liberation Serif, serif" font-size="14" stroke-width="0.22" textLength="3.82" lengthAdjust="spacingAndGlyphs">(</text>
<text x="174.69" y="17.50" font-family="Liberation Serif, serif" font-size="14" font-style="italic" stroke-width="0.14" textLength="7.03" lengthAdjust="spacingAndGlyphs">ϕ</text>
<text x="181.41" y="17.50" font-family="Liberation Serif, serif" font-size="14" stroke-width="0.22" textLength="3.82" lengthAdjust="spacingAndGlyphs">)</text>
<text x="184.92" y="18.40" font-family="Liberation Serif, serif" font-size="14" stroke-width="0.22" textLength="7.76" lengthAdjust="spacingAndGlyphs">=</text>
<text x="194.64" y="11.20" font-family="Liberation Serif, serif" font-size="9.5" font-style="italic" stroke-width="0.1" textLength="7.29" lengthAdjust="spacingAndGlyphs">m</text>
<text x="201.43" y="7.70" font-family="Liberation Serif, serif" font-size="6.5" stroke-width="0.1" textLength="3.12" lengthAdjust="spacingAndGlyphs">2</text>
<text x="207.14" y="11.20" font-family="Liberation Serif, serif" font-size="9.5" font-style="italic" stroke-width="0.1" textLength="5.82" lengthAdjust="spacingAndGlyphs">ϕ</text>
<text x="213.11" y="7.70" font-family="Liberation Serif, serif" font-size="6.5" stroke-width="0.1" textLength="3.24" lengthAdjust="spacingAndGlyphs">2</text>
<path d="M194.6,13.35 H216.6" stroke="#000" stroke-width="0.6"/>
<text x="202.46" y="22.40" font-family="Liberation Serif, serif" font-size="8.8" stroke-width="0.1" textLength="5.50" lengthAdjust="spacingAndGlyphs">2</text>
<text x="224.12" y="17.50" font-family="Liberation Serif, serif" font-size="14" stroke-width="0.22" textLength="3.82" lengthAdjust="spacingAndGlyphs">(</text>
<text x="228.28" y="17.50" font-family="Liberation Serif, serif" font-size="14" font-style="italic" stroke-width="0.14" textLength="7.14" lengthAdjust="spacingAndGlyphs">ϕ</text>
<text x="235.22" y="19.80" font-family="Liberation Serif, serif" font-size="9.8" stroke-width="0.1" textLength="4.95" lengthAdjust="spacingAndGlyphs">0</text>
<text x="240.43" y="18.40" font-family="Liberation Serif, serif" font-size="14" stroke-width="0.22" textLength="7.64" lengthAdjust="spacingAndGlyphs">=</text>
<text x="248.45" y="17.50" font-family="Liberation Serif, serif" font-size="14" font-style="italic" stroke-width="0.14" textLength="10.94" lengthAdjust="spacingAndGlyphs">M</text>
<text x="260.41" y="19.80" font-family="Liberation Serif, serif" font-size="9.8" stroke-width="0.1" textLength="8.50" lengthAdjust="spacingAndGlyphs">Pl</text>
<text x="269.46" y="17.50" font-family="Liberation Serif, serif" font-size="14" stroke-width="0.22" textLength="2.87" lengthAdjust="spacingAndGlyphs">,</text>
<text x="274.65" y="17.50" font-family="Liberation Serif, serif" font-size="14" stroke-width="0.22" textLength="8.93" lengthAdjust="spacingAndGlyphs">m</text>
<text x="284.10" y="18.40" font-family="Liberation Serif, serif" font-size="14" stroke-width="0.22" textLength="7.88" lengthAdjust="spacingAndGlyphs">=</text>
<text x="292.31" y="17.50" font-family="Liberation Serif, serif" font-size="14" font-style="italic" stroke-width="0.14" textLength="4.86" lengthAdjust="spacingAndGlyphs">f</text>
<text x="299.49" y="19.80" font-family="Liberation Serif, serif" font-size="9.8" font-style="italic" stroke-width="0.1" textLength="4.83" lengthAdjust="spacingAndGlyphs">γ</text>
<text x="305.33" y="18.40" font-family="Liberation Serif, serif" font-size="14" stroke-width="0.22" textLength="7.64" lengthAdjust="spacingAndGlyphs">=</text>
<text x="312.50" y="17.50" font-family="Liberation Serif, serif" font-size="14" stroke-width="0.22" textLength="23.20" lengthAdjust="spacingAndGlyphs">0.01</text>
<text x="340.16" y="17.50" font-family="Liberation Serif, serif" font-size="14" font-style="italic" stroke-width="0.14" textLength="11.13" lengthAdjust="spacingAndGlyphs">M</text>
<text x="352.09" y="19.80" font-family="Liberation Serif, serif" font-size="9.8" stroke-width="0.1" textLength="8.92" lengthAdjust="spacingAndGlyphs">Pl</text>
<text x="361.11" y="17.50" font-family="Liberation Serif, serif" font-size="14" stroke-width="0.22" textLength="4.02" lengthAdjust="spacingAndGlyphs">)</text>
<text x="192.09" y="288.50" font-family="Liberation Serif, serif" font-size="13" font-style="italic" stroke-width="0.14" textLength="8.61" lengthAdjust="spacingAndGlyphs">N</text>
<text x="205.18" y="288.50" font-family="Liberation Serif, serif" font-size="13" stroke-width="0.22" textLength="8.12" lengthAdjust="spacingAndGlyphs">−</text>
<text x="216.09" y="288.50" font-family="Liberation Serif, serif" font-size="13" font-style="italic" stroke-width="0.14" textLength="8.61" lengthAdjust="spacingAndGlyphs">N</text>
<text x="225.53" y="290.30" font-family="Liberation Serif, serif" font-size="9.3" stroke-width="0.1" textLength="13.05" lengthAdjust="spacingAndGlyphs">RH</text>
<g transform="translate(419,172.4) rotate(-90)">
<text x="0.40" y="0.00" font-family="Liberation Serif, serif" font-size="14.5" font-style="italic" stroke-width="0.14" textLength="7.58" lengthAdjust="spacingAndGlyphs">ρ</text>
<text x="8.49" y="-2.80" font-family="Liberation Serif, serif" font-size="9.5" stroke-width="0.1" textLength="13.28" lengthAdjust="spacingAndGlyphs">1/4</text>
<text x="22.60" y="0.00" font-family="Liberation Serif, serif" font-size="13" stroke-width="0.22" textLength="4.30" lengthAdjust="spacingAndGlyphs">/</text>
<text x="27.44" y="0.00" font-family="Liberation Serif, serif" font-size="13" font-style="italic" stroke-width="0.14" textLength="9.63" lengthAdjust="spacingAndGlyphs">M</text>
<text x="37.67" y="3.20" font-family="Liberation Serif, serif" font-size="9.3" stroke-width="0.1" textLength="9.56" lengthAdjust="spacingAndGlyphs">Pl</text>
</g>
<path d="M153.3,309.9 H182.3" stroke="#ff0000" stroke-width="1.4"/>
<path d="M153.3,334.5 H181.0" stroke="#0000ff" stroke-width="1.4" stroke-dasharray="4.2 1.55"/>
<path d="M153.3,360.6 H182.3" stroke="#00ff00" stroke-width="1.4"/>
<path d="M217.8,360.6 H245.6" stroke="#eb6235" stroke-width="1.4" stroke-dasharray="1.7 1.5"/>
<text x="187.49" y="311.30" font-family="Liberation Serif, serif" font-size="14.5" font-style="italic" stroke-width="0.14" textLength="7.38" lengthAdjust="spacingAndGlyphs">ρ</text>
<text x="194.85" y="314.40" font-family="Liberation Serif, serif" font-size="8.6" font-style="italic" stroke-width="0.1" textLength="6.11" lengthAdjust="spacingAndGlyphs">R</text>
<text x="201.05" y="308.00" font-family="Liberation Serif, serif" font-size="9.5" stroke-width="0.1" textLength="12.40" lengthAdjust="spacingAndGlyphs">1/4</text>
<text x="187.49" y="337.20" font-family="Liberation Serif, serif" font-size="14.5" font-style="italic" stroke-width="0.14" textLength="7.38" lengthAdjust="spacingAndGlyphs">ρ</text>
<text x="194.45" y="340.20" font-family="Liberation Serif, serif" font-size="8.6" font-style="italic" stroke-width="0.1" textLength="5.70" lengthAdjust="spacingAndGlyphs">R</text>
<text x="200.44" y="340.20" font-family="Liberation Serif, serif" font-size="8.6" stroke-width="0.1" textLength="2.35" lengthAdjust="spacingAndGlyphs">,</text>
<text x="204.22" y="340.20" font-family="Liberation Serif, serif" font-size="8.6" stroke-width="0.1" textLength="10.78" lengthAdjust="spacingAndGlyphs">eff</text>
<text x="216.04" y="333.60" font-family="Liberation Serif, serif" font-size="9.5" stroke-width="0.1" textLength="12.51" lengthAdjust="spacingAndGlyphs">1/4</text>
<text x="187.25" y="362.70" font-family="Liberation Serif, serif" font-size="13" font-style="italic" stroke-width="0.14" textLength="7.56" lengthAdjust="spacingAndGlyphs">V</text>
<text x="195.83" y="358.20" font-family="Liberation Serif, serif" font-size="9.5" stroke-width="0.1" textLength="12.62" lengthAdjust="spacingAndGlyphs">1/4</text>
<text x="251.58" y="362.70" font-family="Liberation Serif, serif" font-size="13.5" font-style="italic" stroke-width="0.14" textLength="7.05" lengthAdjust="spacingAndGlyphs">a</text>
<text x="258.38" y="358.40" font-family="Liberation Serif, serif" font-size="9.5" stroke-width="0.1" textLength="5.94" lengthAdjust="spacingAndGlyphs">−</text>
<text x="263.93" y="358.40" font-family="Liberation Serif, serif" font-size="9.5" stroke-width="0.1" textLength="4.97" lengthAdjust="spacingAndGlyphs">1</text>
</g>
</svg>
</body></html>
